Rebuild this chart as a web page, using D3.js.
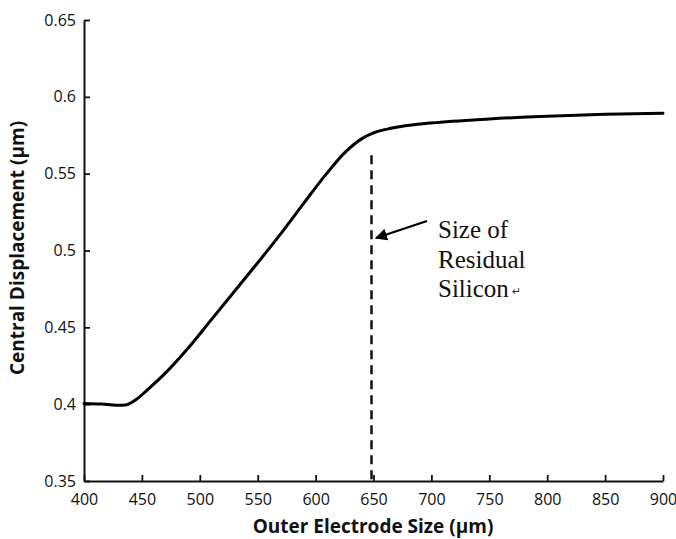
<!DOCTYPE html>
<html><head><meta charset="utf-8">
<script src="https://cdn.jsdelivr.net/npm/d3@7"></script>
<style>
body{margin:0;background:#fff;}
svg{display:block;}
</style></head>
<body>
<svg id="chart" width="676" height="539"></svg>
<script>
const sizes = [400,415,428,436,445,455,470,490,510,530,550,570,590,610,625,640,650,665,685,700,750,800,850,900];
const displacement = [0.4005,0.4001,0.3993,0.3995,0.4030,0.4095,0.4200,0.4365,0.4550,0.4735,0.4920,0.5110,0.5310,0.5505,0.5635,0.5728,0.5765,0.5795,0.5818,0.5830,0.5856,0.5874,0.5886,0.5893];
const xTicks = [400,450,500,550,600,650,700,750,800,850,900];
const yTicks = [0.35,0.4,0.45,0.5,0.55,0.6,0.65];
const yTickLabels = ["0.35","0.4","0.45","0.5","0.55","0.6","0.65"];
const markerSize = 650;
const markerTop = 0.562;
const noteLines = ["Size of","Residual","Silicon"];
const xTitle = "Outer Electrode Size (µm)";
const yTitle = "Central Displacement (µm)";

const svg = d3.select("#chart");
const x = d3.scaleLinear().domain([400,900]).range([84,663]);
const y = d3.scaleLinear().domain([0.35,0.65]).range([481,20]);
const tickFont = "'Open Sans', sans-serif";

const gx = svg.append("g").attr("transform",`translate(0,${y(0.35)})`)
  .call(d3.axisBottom(x).tickValues(xTicks).tickSizeInner(-6).tickSizeOuter(0).tickPadding(13).tickFormat(d3.format("d")));
gx.select(".domain").attr("stroke","#111").attr("stroke-width",2);
gx.selectAll(".tick line").attr("stroke","#111").attr("stroke-width",1.8);
gx.selectAll(".tick text").attr("font-family",tickFont).attr("font-size",16).attr("fill","#111");

const gy = svg.append("g").attr("transform",`translate(${x(400)},0)`)
  .call(d3.axisLeft(y).tickValues(yTicks).tickSizeInner(-6).tickSizeOuter(0).tickPadding(8).tickFormat((d,i)=>yTickLabels[i]));
gy.select(".domain").attr("stroke","#111").attr("stroke-width",2);
gy.selectAll(".tick line").attr("stroke","#111").attr("stroke-width",1.8);
gy.selectAll(".tick text").attr("font-family",tickFont).attr("font-size",16).attr("fill","#111");

// dashed marker
svg.append("line")
  .attr("x1",x(markerSize)-2).attr("x2",x(markerSize)-2)
  .attr("y1",y(markerTop)).attr("y2",y(0.35))
  .attr("stroke","#111").attr("stroke-width",2.5).attr("stroke-dasharray","9,6");

// curve
const pts = sizes.map((s,i)=>[s,displacement[i]]);
svg.append("path").datum(pts)
  .attr("fill","none").attr("stroke","#000").attr("stroke-width",3)
  .attr("stroke-linejoin","round").attr("stroke-linecap","round")
  .attr("d", d3.line().x(d=>x(d[0])).y(d=>y(d[1])).curve(d3.curveMonotoneX));

// arrow
svg.append("defs").append("marker").attr("id","ah")
  .attr("viewBox","0 0 10 10").attr("refX",9).attr("refY",5)
  .attr("markerWidth",5.5).attr("markerHeight",5.5).attr("orient","auto")
  .append("path").attr("d","M0,0 L10,5 L0,10 z").attr("fill","#000");
svg.append("line").attr("x1",427).attr("y1",221).attr("x2",376).attr("y2",238)
  .attr("stroke","#000").attr("stroke-width",2.2).attr("marker-end","url(#ah)");

// note
const note = svg.append("text").attr("font-family","'Liberation Serif', 'Times New Roman', serif")
  .attr("font-size",25).attr("fill","#111");
noteLines.forEach((t,i)=>{
  note.append("tspan").attr("x",438).attr("y",238+i*29.5).text(t);
});
svg.append("text").attr("x",512).attr("y",295).attr("font-family","'DejaVu Sans', sans-serif")
  .attr("font-size",11).attr("fill","#333").text("↵");

// titles
svg.append("text").attr("x",373).attr("y",533).attr("text-anchor","middle")
  .attr("font-family",tickFont).attr("font-weight","bold").attr("font-size",19).attr("fill","#111")
  .text(xTitle);
svg.append("text").attr("transform","translate(24,248) rotate(-90)").attr("text-anchor","middle")
  .attr("font-family",tickFont).attr("font-weight","bold").attr("font-size",19).attr("fill","#111")
  .text(yTitle);
</script>
</body></html>
